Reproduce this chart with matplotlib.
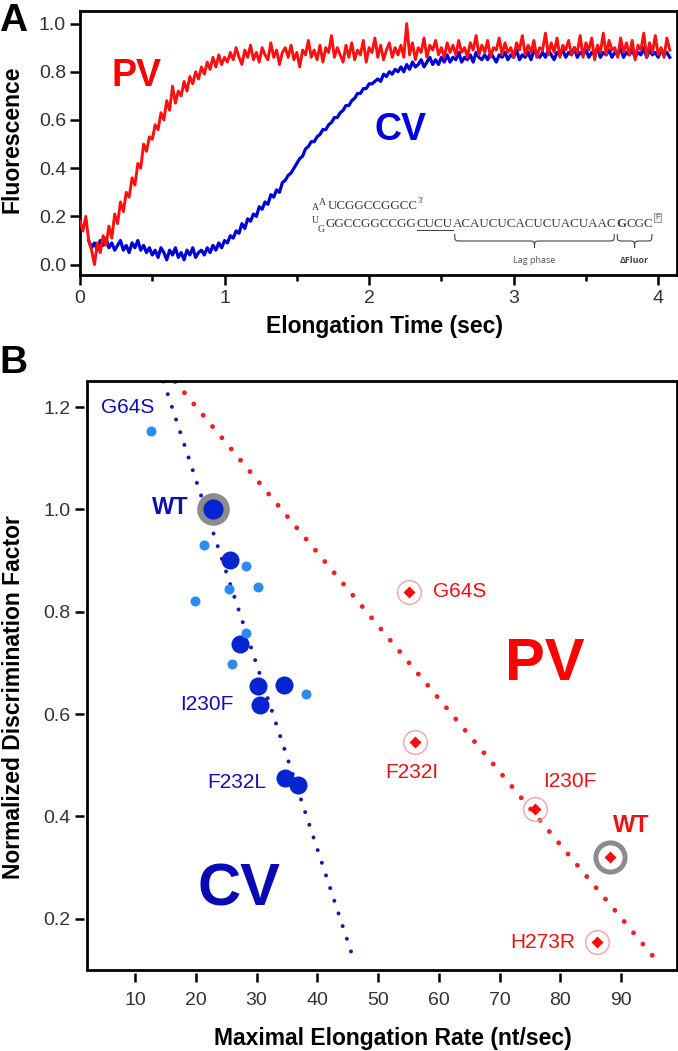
import numpy as np
import matplotlib
matplotlib.use("Agg")
import matplotlib.pyplot as plt
from matplotlib.path import Path
from matplotlib.patches import PathPatch, Rectangle
from matplotlib.lines import Line2D
from matplotlib.transforms import IdentityTransform

plt.rcParams['font.family'] = ['Liberation Sans', 'DejaVu Sans']

# ---------------- Panel A data (fluorescence traces) ----------------
time_step = 0.02
pv_fluor = [
    0.18, 0.14, 0.20, 0.10, 0.06, 0.00, 0.09, 0.05, 0.12, 0.08,
    0.16, 0.11, 0.21, 0.17, 0.26, 0.22, 0.30, 0.28, 0.36, 0.33,
    0.42, 0.40, 0.50, 0.47, 0.53, 0.52, 0.58, 0.56, 0.63, 0.60,
    0.68, 0.64, 0.74, 0.67, 0.72, 0.70, 0.76, 0.72, 0.78, 0.75,
    0.80, 0.77, 0.82, 0.79, 0.84, 0.81, 0.86, 0.82, 0.87, 0.83,
    0.86,
    0.84, 0.88, 0.85, 0.90, 0.86, 0.83, 0.89, 0.86, 0.91, 0.85,
    0.88, 0.84, 0.90, 0.87, 0.85, 0.92, 0.86, 0.89, 0.83, 0.88,
    0.90, 0.86, 0.91, 0.85, 0.88, 0.82, 0.89, 0.87, 0.93, 0.86,
    0.89, 0.85, 0.91, 0.84, 0.90, 0.88, 0.95, 0.86, 0.90, 0.87,
    0.84, 0.91, 0.86, 0.92, 0.85, 0.89, 0.87, 0.93, 0.84, 0.90,
    0.88, 0.94, 0.86, 0.91, 0.85, 0.89, 0.92, 0.86, 0.90, 0.87,
    0.91, 0.86, 1.00, 0.87, 0.92, 0.85, 0.90, 0.88, 0.94, 0.86,
    0.91, 0.89, 0.93, 0.87, 0.90, 0.86, 0.92, 0.88, 0.91, 0.87,
    0.93, 0.88, 0.90, 0.86, 0.92, 0.89, 0.95, 0.87, 0.91, 0.88,
    0.93, 0.86, 0.90, 0.89, 0.94, 0.87, 0.92, 0.88, 0.90, 0.86,
    0.92, 0.89, 0.95, 0.87, 0.91, 0.88, 0.93, 0.86, 0.90, 0.89,
    0.96, 0.87, 0.92, 0.88, 0.94, 0.86, 0.91, 0.89, 0.93, 0.87,
    0.90, 0.88, 0.95, 0.86, 0.92, 0.89, 0.94, 0.85, 0.91, 0.88,
    0.96, 0.87, 0.93, 0.89, 0.90, 0.86, 0.94, 0.88, 0.92, 0.87,
    0.93, 0.85, 0.91, 0.89, 0.96, 0.86, 0.92, 0.88, 0.95, 0.87,
    0.90, 0.86, 0.94, 0.89,
]
cv_start = 0.06
cv_fluor = [
    0.10, 0.07, 0.09, 0.06, 0.10, 0.08, 0.11, 0.07, 0.09, 0.06,
    0.08, 0.10, 0.06, 0.08, 0.05, 0.09, 0.07, 0.10, 0.06, 0.08,
    0.05, 0.07, 0.04, 0.06, 0.03, 0.07, 0.05, 0.02, 0.06, 0.04,
    0.07, 0.03, 0.05, 0.02, 0.06, 0.04, 0.07, 0.03, 0.05, 0.06,
    0.04, 0.07, 0.05, 0.08, 0.06, 0.09, 0.07, 0.10, 0.09, 0.12,
    0.11, 0.14, 0.13, 0.17, 0.15, 0.19, 0.18, 0.21, 0.20, 0.24,
    0.23, 0.26, 0.25, 0.29, 0.28, 0.31, 0.30, 0.34, 0.35, 0.37,
    0.38, 0.40, 0.42, 0.44, 0.45, 0.48, 0.49, 0.51, 0.51, 0.53,
    0.54, 0.56, 0.56, 0.58, 0.59, 0.61, 0.61, 0.63, 0.64, 0.66,
    0.66, 0.68, 0.69, 0.71, 0.71, 0.73, 0.73, 0.75, 0.75, 0.76,
    0.77, 0.76, 0.79, 0.78, 0.80, 0.79, 0.81, 0.80, 0.82, 0.80,
    0.83, 0.81, 0.84, 0.82, 0.83, 0.85, 0.82, 0.84, 0.86, 0.83,
    0.85, 0.83, 0.86, 0.84, 0.87, 0.84, 0.86, 0.85, 0.88, 0.84,
    0.86, 0.85, 0.87, 0.84, 0.88, 0.86, 0.85, 0.87, 0.85, 0.88,
    0.86, 0.84, 0.87, 0.86, 0.88, 0.85, 0.87, 0.86, 0.89, 0.85,
    0.87, 0.86, 0.88, 0.85, 0.89, 0.87, 0.86, 0.88, 0.86, 0.89,
    0.87, 0.85, 0.88, 0.87, 0.89, 0.86, 0.88, 0.87, 0.90, 0.86,
    0.88, 0.87, 0.89, 0.86, 0.88, 0.87, 0.90, 0.86, 0.88, 0.87,
    0.89, 0.86, 0.88, 0.87, 0.90, 0.86, 0.88, 0.87, 0.89, 0.86,
    0.88, 0.87, 0.90, 0.86, 0.89, 0.87, 0.88, 0.86, 0.89, 0.87,
    0.88, 0.86,
]
a_xticks = [0, 1, 2, 3, 4]
a_yticks = [0.0, 0.2, 0.4, 0.6, 0.8, 1.0]

# ---------------- Panel B data ----------------
cv_light_rate = [12.7, 21.4, 28.3, 25.5, 30.3, 19.8, 28.3, 26.0, 38.1]
cv_light_disc = [1.154, 0.931, 0.889, 0.845, 0.848, 0.821, 0.758, 0.697, 0.640]
cv_dark_rate = [25.7, 27.2, 30.2, 34.5, 30.6, 34.7, 36.9]
cv_dark_disc = [0.902, 0.738, 0.655, 0.656, 0.617, 0.476, 0.461]
cv_wt_rate = [22.9]
cv_wt_disc = [1.000]
pv_names = ['G64S', 'F232I', 'I230F', 'WT', 'H273R']
pv_rate = [55.1, 56.1, 75.8, 88.2, 86.1]
pv_disc = [0.839, 0.546, 0.415, 0.320, 0.155]
cv_fit_rate = [14.7, 46.0]
cv_fit_disc = [1.25, 0.12]
pv_fit_rate = [16.6, 95.6]
pv_fit_disc = [1.25, 0.122]
b_xticks = [10, 20, 30, 40, 50, 60, 70, 80, 90]
b_yticks = [0.2, 0.4, 0.6, 0.8, 1.0, 1.2]

W, H = 678, 1051
fig = plt.figure(figsize=(W / 100, H / 100), dpi=100)


def fpos(x, y):
    return x / W, 1 - y / H


RED = '#ff1010'
BLUE = '#0000d8'
TICKC = '#333333'

# ================= Panel A =================
axA = fig.add_axes([80 / W, 1 - 275 / H, 597 / W, 264 / H])
pv_time = np.arange(len(pv_fluor)) * time_step
cv_time = cv_start + np.arange(len(cv_fluor)) * time_step
axA.plot(cv_time, cv_fluor, color=BLUE, lw=2.3, zorder=2)
axA.plot(pv_time, pv_fluor, color=RED, lw=2.1, zorder=3)
axA.set_xlim(0, 4.13)
axA.set_ylim(-0.043, 1.052)
axA.set_xticks(a_xticks)
axA.set_xticklabels([str(v) for v in a_xticks])
axA.set_xticks([0.5, 1.5, 2.5, 3.5], minor=True)
axA.set_yticks(a_yticks)
axA.set_yticklabels(['%.1f' % v for v in a_yticks])
for s in axA.spines.values():
    s.set_linewidth(2.0)
axA.tick_params(axis='both', which='major', direction='out', length=7, width=1.8,
                labelsize=14, labelcolor=TICKC)
axA.tick_params(axis='x', which='major', pad=4)
axA.tick_params(axis='y', which='major', pad=3)
axA.tick_params(axis='x', which='minor', direction='out', length=4, width=1.8)
axA.text(0.388, 0.784, 'PV', color='#ff0000', fontsize=27, fontweight='bold',
         ha='center', va='center')
axA.text(2.218, 0.557, 'CV', color='#0000e0', fontsize=27, fontweight='bold',
         ha='center', va='center')
fig.text(*fpos(384, 327), 'Elongation Time (sec)', fontsize=16.5, fontweight='bold',
         ha='center', va='center')
fig.text(*fpos(12, 139), 'Fluorescence', fontsize=16.5, fontweight='bold',
         ha='center', va='center', rotation=90)
fig.text(*fpos(-1, 31), 'A', fontsize=28, fontweight='bold', ha='left', va='baseline')

# ================= Panel B =================
axB = fig.add_axes([87 / W, 1 - 970 / H, 590 / W, 589 / H])
axB.plot(cv_fit_rate, cv_fit_disc, color='#1a1aa8', lw=2.9, linestyle=(0, (0.01, 3.3)),
         dash_capstyle='round', zorder=2)
axB.plot(pv_fit_rate, pv_fit_disc, color='#ee2222', lw=3.5, linestyle=(0, (0.01, 3.0)),
         dash_capstyle='round', zorder=2)
axB.plot(cv_wt_rate, cv_wt_disc, 'o', ms=23.5, color='#8c8c8c', mec='none', zorder=3)
axB.plot(cv_dark_rate, cv_dark_disc, 'o', ms=13, color='#0624cf', mec='none', zorder=3)
axB.plot(cv_wt_rate, cv_wt_disc, 'o', ms=14.5, color='#0624cf', mec='none', zorder=4)
axB.plot(cv_light_rate, cv_light_disc, 'o', ms=7.2, color='#2a8cf0', mec='none', zorder=4)
axB.plot(pv_rate, pv_disc, 'o', ms=17, mfc='none', mec='#f4a3a3', mew=1.0, zorder=3)
wt_i = pv_names.index('WT')
axB.plot([pv_rate[wt_i]], [pv_disc[wt_i]], 'o', ms=21, mfc='white', mec='#8c8c8c',
         mew=3.6, zorder=4)
axB.plot(pv_rate, pv_disc, 'D', ms=6.6, color='#ff0a0a', mec='none', zorder=5)
axB.set_xlim(2.1, 99.2)
axB.set_ylim(0.100, 1.251)
axB.set_xticks(b_xticks)
axB.set_xticklabels([str(v) for v in b_xticks])
axB.set_yticks(b_yticks)
axB.set_yticklabels(['%.1f' % v for v in b_yticks])
for side in ['top', 'right']:
    axB.spines[side].set_visible(False)
for side in ['left', 'bottom']:
    axB.spines[side].set_position(('outward', 2.5))
    axB.spines[side].set_color('none')
axB.add_patch(Rectangle((0, 0), 1, 1, transform=axB.transAxes, fill=False, lw=2.0,
                        ec='black', clip_on=False, zorder=6))
axB.tick_params(axis='both', direction='out', length=6.5, width=1.8, labelsize=14,
                labelcolor=TICKC)
axB.tick_params(axis='x', pad=7)
axB.tick_params(axis='y', pad=3)

CVLAB = '#1010b0'
PVLAB = '#ee1111'
axB.text(8.85, 1.199, 'G64S', color=CVLAB, fontsize=15, ha='center', va='center')
axB.text(15.85, 1.003, 'WT', color=CVLAB, fontsize=17, fontweight='bold', ha='center', va='center')
axB.text(21.8, 0.618, 'I230F', color=CVLAB, fontsize=15, ha='center', va='center')
axB.text(26.8, 0.466, 'F232L', color=CVLAB, fontsize=15, ha='center', va='center')
axB.text(63.4, 0.839, 'G64S', color=PVLAB, fontsize=15, ha='center', va='center')
axB.text(55.5, 0.485, 'F232I', color=PVLAB, fontsize=15, ha='center', va='center')
axB.text(81.5, 0.469, 'I230F', color=PVLAB, fontsize=15, ha='center', va='center')
axB.text(91.6, 0.383, 'WT', color=PVLAB, fontsize=17, fontweight='bold', ha='center', va='center')
axB.text(77.1, 0.153, 'H273R', color=PVLAB, fontsize=15, ha='center', va='center')
axB.text(77.4, 0.697, 'PV', color='#ff0000', fontsize=43, fontweight='bold', ha='center', va='center')
axB.text(27.1, 0.257, 'CV', color='#0a0ab4', fontsize=43, fontweight='bold', ha='center', va='center')

fig.text(*fpos(393, 1038), 'Maximal Elongation Rate (nt/sec)', fontsize=16.5,
         fontweight='bold', ha='center', va='center')
fig.text(*fpos(14, 697), 'Normalized Discrimination Factor', fontsize=16.5,
         fontweight='bold', ha='center', va='center', rotation=90)
fig.text(*fpos(-1, 373), 'B', fontsize=28, fontweight='bold', ha='left', va='baseline')

# ================= RNA sequence annotation (panel A inset) =================
renderer = fig.canvas.get_renderer()
SEQC = '#3a3a3a'
SERIF = ['Liberation Serif', 'DejaVu Serif']


def put(x, y, s, size=9.4, **kw):
    t = fig.text(x / W, 1 - y / H, s, fontsize=size, family=SERIF, color=SEQC,
                 ha='left', va='baseline', **kw)
    bb = t.get_window_extent(renderer)
    return t, bb


_, bb = put(312, 210, 'A', size=7)
_, bb = put(bb.x1 + 0.3, 205, 'A', size=7)
_, bb = put(bb.x1 + 1.0, 209, 'UCGGCCGGCC')
_, bb = put(bb.x1 + 0.5, 203, "3\u2032", size=6)

_, bb = put(312, 223, 'U', size=7)
_, bb = put(318, 232, 'G', size=7)
_, bb = put(bb.x1 + 1.0, 227, 'GGCCGGCCGG')
_, bbu = put(bb.x1, 227, 'CUCU')
fig.add_artist(Line2D([bbu.x0, bbu.x1], [H - 229.5, H - 229.5], transform=IdentityTransform(),
                      color=SEQC, lw=0.7))
_, bblag = put(bbu.x1, 227, 'ACAUCUCACUCUACUAAC')
_, bbg = put(bblag.x1, 227, 'G', fontweight='bold')
_, bbc = put(bbg.x1, 227, 'CGC')
fig.text((bbc.x1 + 2) / W, 1 - 219 / H, 'F', fontsize=5.5, color='#555555', ha='left',
         va='baseline', bbox=dict(boxstyle='square,pad=0.15', fc='#eeeeee', ec='#888888', lw=0.6))


def brace(x0, x1, ytop, ybot):
    ym = (ytop + ybot) / 2
    xm = (x0 + x1) / 2
    r = min(6, (x1 - x0) / 4)
    Y = lambda y: H - y
    verts = [(x0, Y(ytop)), (x0, Y(ym)), (x0, Y(ym)), (x0 + r, Y(ym)),
             (xm - r, Y(ym)), (xm, Y(ym)), (xm, Y(ym)), (xm, Y(ybot)),
             (xm, Y(ym)), (xm, Y(ym)), (xm + r, Y(ym)),
             (x1 - r, Y(ym)), (x1, Y(ym)), (x1, Y(ym)), (x1, Y(ytop))]
    codes = [Path.MOVETO, Path.CURVE4, Path.CURVE4, Path.CURVE4,
             Path.LINETO, Path.CURVE4, Path.CURVE4, Path.CURVE4,
             Path.CURVE4, Path.CURVE4, Path.CURVE4,
             Path.LINETO, Path.CURVE4, Path.CURVE4, Path.CURVE4]
    fig.add_artist(PathPatch(Path(verts, codes), transform=IdentityTransform(),
                             fill=False, ec='#444444', lw=0.8))
    return xm


xm1 = brace(bblag.x0 + 2, bblag.x1 - 2, 234, 248)
xm2 = brace(bbg.x0 + 1, bbc.x1 - 1, 234, 248)
fig.text(xm1 / W, 1 - 263 / H, 'Lag phase', fontsize=6.5, color='#555555',
         family=['Open Sans', 'DejaVu Sans'], ha='center', va='baseline')
fig.text(xm2 / W, 1 - 263 / H, '\u0394Fluor', fontsize=6.5, color='#444444', fontweight='bold',
         family=['Open Sans', 'DejaVu Sans'], ha='center', va='baseline')

fig.savefig('out.png', dpi=100)
